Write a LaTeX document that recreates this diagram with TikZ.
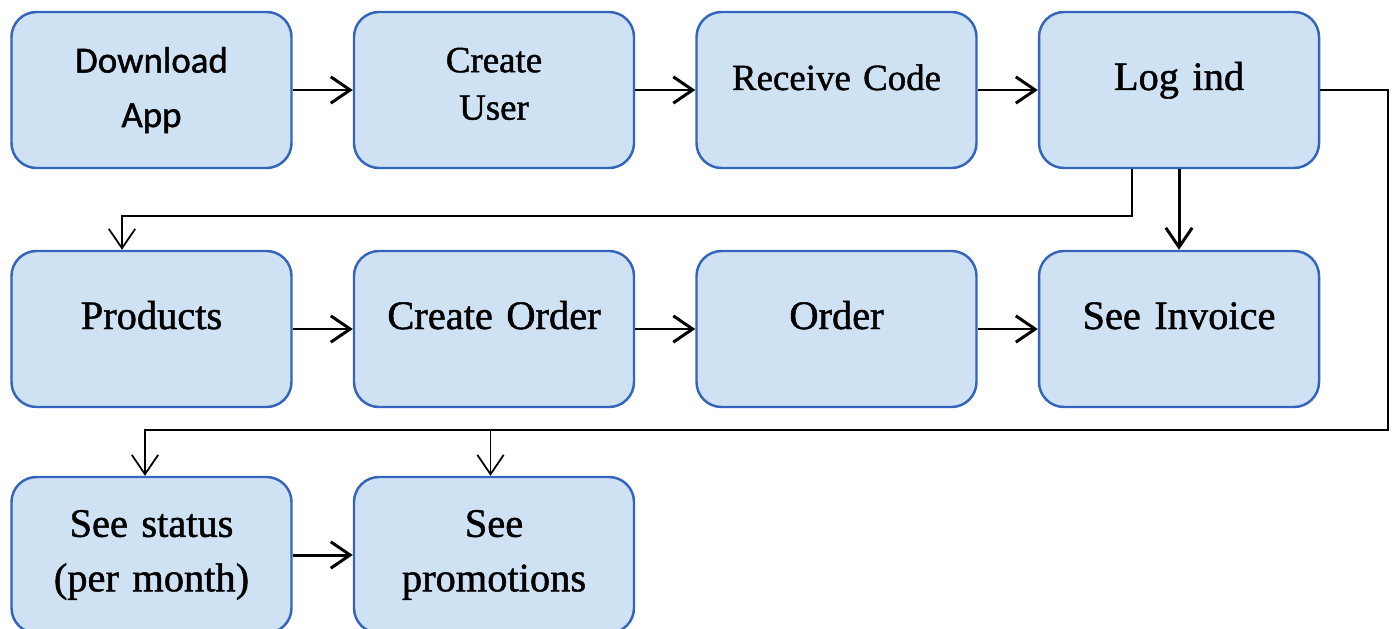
\documentclass[tikz,border=0pt]{standalone}
\usepackage{fontspec}
\setmainfont{Liberation Serif}
\newfontfamily\appfont{Carlito}
\usetikzlibrary{shapes,arrows.meta}
\definecolor{boxfill}{RGB}{207,226,243}
\definecolor{boxedge}{RGB}{52,100,188}
\tikzstyle{block} = [rectangle, draw=boxedge, line width=1.4pt, fill=boxfill,
    text width=5.6cm, align=center, inner sep=0pt, rounded corners=0.5cm,
    minimum height=3.12cm, font=\fontsize{23}{31}\selectfont\addfontfeature{FakeBold=1.2}]
\tikzstyle{small} = [font=\fontsize{21}{27}\selectfont\addfontfeature{FakeBold=1.2}]
\tikzstyle{oneline} = [text height=0.6cm, text depth=0.6cm]
\tikzstyle{line} = [draw, line width=1.7pt, -{Straight Barb[length=11pt,width=15pt]}]
\tikzstyle{thinline} = [draw, line width=1pt, -{Straight Barb[length=11pt,width=15pt]}]

\begin{document}
\begin{tikzpicture}[node distance = 6.85cm, auto]
    \useasboundingbox (0,0) rectangle (27.84,-12.56);
    % Place nodes
    \node [block, font=\appfont\fontsize{21}{31}\selectfont\addfontfeature{FakeBold=1.2}] (download) at (3.03,-1.80) {Download\\App};
    \node [block, small, text depth=1.2cm, right of=download] (createuser) {Create\\User};
    \node [block, small, oneline, right of=createuser] (receive) {Receive Code};
    \node [block, oneline, right of=receive] (login) {Log ind};
    \node [block, oneline, below of=download, node distance=4.78cm] (products) {Products};
    \node [block, oneline, right of=products] (createorder) {Create Order};
    \node [block, oneline, right of=createorder] (order) {Order};
    \node [block, oneline, right of=order] (invoice) {See Invoice};
    \node [block, below of=products, node distance=4.52cm] (status) {See status\\(per month)};
    \node [block, right of=status] (promo) {See\\promotions};
    \coordinate (bus) at (27.76,-8.60);
    % Draw edges
    \path [line] (download) -- (createuser);
    \path [line] (createuser) -- (receive);
    \path [line] (receive) -- (login);
    \path [line] (login) -- (invoice);
    \path [line] (products) -- (createorder);
    \path [line] (createorder) -- (order);
    \path [line] (order) -- (invoice);
    \path [line] (status) -- (promo);
    \path [thinline] ([xshift=-0.94cm]login.south) -- ++(0,-0.94) -| ([xshift=-0.59cm]products.north);
    \path [thinline] (login.east) -| (bus) -| ([xshift=-0.13cm]status.north);
    \path [thinline] ([xshift=-0.07cm]promo.north |- bus) -- ([xshift=-0.07cm]promo.north);
\end{tikzpicture}
\end{document}
